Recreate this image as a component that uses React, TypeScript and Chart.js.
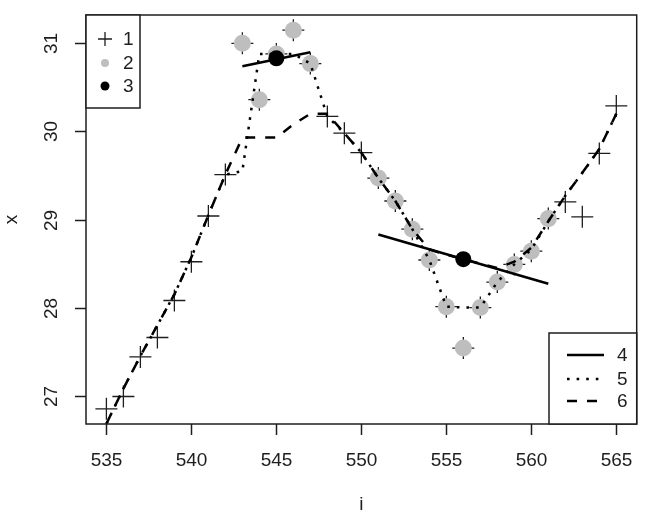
import React, { useEffect, useRef } from "react";
import { Chart, registerables } from "chart.js";

Chart.register(...registerables);

// ---- data ----
const iValues = [535, 536, 537, 538, 539, 540, 541, 542, 543, 544, 545, 546, 547, 548, 549, 550, 551, 552, 553, 554, 555, 556, 557, 558, 559, 560, 561, 562, 563, 564, 565];
const series1X = [26.85, 26.99, 27.44, 27.66, 28.08, 28.52, 29.04, 29.51, 31.0, 30.36, 30.88, 31.15, 30.77, 30.17, 29.98, 29.76, 29.47, 29.21, 28.89, 28.54, 28.01, 27.54, 28.0, 28.29, 28.49, 28.64, 29.01, 29.2, 29.03, 29.75, 30.29];
const series2I = [543, 544, 545, 546, 547, 551, 552, 553, 554, 555, 556, 557, 558, 559, 560, 561];
const series2X = [31.0, 30.36, 30.88, 31.15, 30.77, 29.47, 29.21, 28.89, 28.54, 28.01, 27.54, 28.0, 28.29, 28.49, 28.64, 29.01];
const series3I = [545, 556];
const series3X = [30.83, 28.55];
const line4aI = [543, 547];
const line4aX = [30.74, 30.9];
const line4bI = [551, 561];
const line4bX = [28.83, 28.27];
const line5X = [26.68, 27.08, 27.45, 27.8, 28.15, 28.57, 29.05, 29.51, 29.55, 30.88, 30.88, 30.88, 30.77, 30.17, 29.98, 29.76, 29.47, 29.21, 28.89, 28.54, 28.01, 28.0, 28.0, 28.29, 28.49, 28.66, 28.98, 29.27, 29.53, 29.8, 30.2];
const line6X = [26.68, 27.08, 27.45, 27.8, 28.15, 28.57, 29.05, 29.51, 29.93, 29.93, 29.93, 30.08, 30.2, 30.2, 29.98, 29.76, 29.47, 29.21, 28.89, 28.66, 28.6, 28.55, 28.5, 28.45, 28.52, 28.68, 28.98, 29.27, 29.53, 29.8, 30.2];
const xTicks = [535, 540, 545, 550, 555, 560, 565];
const yTicks = [27, 28, 29, 30, 31];
const legendTopLabels = ["1", "2", "3"];
const legendBottomLabels = ["4", "5", "6"];
const xTitle = "i";
const yTitle = "x";

const FONT = '"Liberation Sans", Arial, sans-serif';
const INK = "#1e1e1e";
const GREY = "#bebebe";
const DOTTED = [2.6, 7];
const DASHED = [10, 10];

const zip = (xs: number[], ys: number[]) => xs.map((x, k) => ({ x, y: ys[k] }));

const rPlot = {
  id: "rPlot",
  afterDraw(chart: any) {
    const ctx = chart.ctx;
    const ca = chart.chartArea;
    const xs = chart.scales.x;
    const ys = chart.scales.y;
    ctx.save();
    ctx.strokeStyle = INK;
    ctx.fillStyle = INK;
    ctx.lineWidth = 1.5;
    ctx.setLineDash([]);
    // box
    ctx.strokeRect(ca.left, ca.top, ca.right - ca.left, ca.bottom - ca.top);
    ctx.font = `19px ${FONT}`;
    // x ticks
    ctx.textAlign = "center";
    ctx.textBaseline = "middle";
    xTicks.forEach((v) => {
      const px = Math.round(xs.getPixelForValue(v)) + 0.5;
      ctx.beginPath();
      ctx.moveTo(px, ca.bottom);
      ctx.lineTo(px, ca.bottom + 11);
      ctx.stroke();
      ctx.fillText(String(v), px, 461);
    });
    // y ticks
    yTicks.forEach((v) => {
      const py = Math.round(ys.getPixelForValue(v)) + 0.5;
      ctx.beginPath();
      ctx.moveTo(ca.left, py);
      ctx.lineTo(ca.left - 11, py);
      ctx.stroke();
      ctx.save();
      ctx.translate(52, py);
      ctx.rotate(-Math.PI / 2);
      ctx.fillText(String(v), 0, 0);
      ctx.restore();
    });
    // titles
    ctx.fillText(xTitle, (ca.left + ca.right) / 2, 505);
    ctx.save();
    ctx.translate(12, (ca.top + ca.bottom) / 2);
    ctx.rotate(-Math.PI / 2);
    ctx.fillText(yTitle, 0, 0);
    ctx.restore();

    // legend top-left
    const l1 = { x: ca.left, y: ca.top, w: 54, h: 93 };
    ctx.fillStyle = "#fff";
    ctx.fillRect(l1.x, l1.y, l1.w, l1.h);
    ctx.strokeRect(l1.x, l1.y, l1.w, l1.h);
    const rows1 = [ca.top + 24, ca.top + 48, ca.top + 71];
    const sx1 = ca.left + 19;
    // +
    ctx.lineWidth = 1.3;
    ctx.strokeStyle = INK;
    ctx.beginPath();
    ctx.moveTo(sx1 - 7, rows1[0]);
    ctx.lineTo(sx1 + 7, rows1[0]);
    ctx.moveTo(sx1, rows1[0] - 7);
    ctx.lineTo(sx1, rows1[0] + 7);
    ctx.stroke();
    ctx.fillStyle = GREY;
    ctx.beginPath();
    ctx.arc(sx1, rows1[1], 4, 0, Math.PI * 2);
    ctx.fill();
    ctx.fillStyle = "#000";
    ctx.beginPath();
    ctx.arc(sx1, rows1[2], 4.5, 0, Math.PI * 2);
    ctx.fill();
    ctx.fillStyle = INK;
    ctx.textAlign = "left";
    legendTopLabels.forEach((t, k) => ctx.fillText(t, ca.left + 37, rows1[k] + 1));

    // legend bottom-right
    ctx.lineWidth = 1.5;
    const l2 = { x: 549, y: 333, w: ca.right - 549, h: ca.bottom - 333 };
    ctx.fillStyle = "#fff";
    ctx.fillRect(l2.x, l2.y, l2.w, l2.h);
    ctx.strokeRect(l2.x, l2.y, l2.w, l2.h);
    const rows2 = [355, 379, 401];
    const dashes = [[], DOTTED, DASHED];
    rows2.forEach((ry, k) => {
      ctx.lineWidth = 2.5;
      ctx.setLineDash(dashes[k]);
      ctx.strokeStyle = "#000";
      ctx.beginPath();
      ctx.moveTo(567, ry);
      ctx.lineTo(604, ry);
      ctx.stroke();
    });
    ctx.setLineDash([]);
    ctx.fillStyle = INK;
    legendBottomLabels.forEach((t, k) => ctx.fillText(t, 617, rows2[k] + 1));
    ctx.restore();
  },
};

export default function App() {
  const ref = useRef<HTMLCanvasElement | null>(null);
  useEffect(() => {
    if (!ref.current) return;
    const chart = new Chart(ref.current, {
      type: "line",
      data: {
        datasets: [
          {
            label: "1",
            data: zip(iValues, series1X),
            showLine: false,
            pointStyle: "cross",
            pointRadius: 11,
            pointBorderWidth: 1.3,
            borderColor: INK,
            backgroundColor: INK,
            order: 6,
          },
          {
            label: "2",
            data: zip(series2I, series2X),
            showLine: false,
            pointStyle: "circle",
            pointRadius: 8.5,
            pointBorderWidth: 0,
            borderColor: GREY,
            backgroundColor: GREY,
            order: 5,
          },
          {
            label: "3",
            data: zip(series3I, series3X),
            showLine: false,
            pointStyle: "circle",
            pointRadius: 8,
            pointBorderWidth: 0,
            borderColor: "#000",
            backgroundColor: "#000",
            order: 4,
          },
          {
            label: "4",
            data: [...zip(line4aI, line4aX), { x: 549, y: null }, ...zip(line4bI, line4bX)],
            borderColor: "#000",
            borderWidth: 2.5,
            pointRadius: 0,
            spanGaps: false,
            order: 3,
          },
          {
            label: "5",
            data: zip(iValues, line5X),
            borderColor: "#000",
            borderWidth: 2.5,
            borderDash: DOTTED,
            pointRadius: 0,
            order: 2,
          },
          {
            label: "6",
            data: zip(iValues, line6X),
            borderColor: "#000",
            borderWidth: 2.5,
            borderDash: DASHED,
            pointRadius: 0,
            order: 1,
          },
        ],
      } as any,
      options: {
        responsive: false,
        animation: false,
        devicePixelRatio: 1,
        layout: { padding: { left: 86, top: 15, right: 11, bottom: 95 } },
        plugins: { legend: { display: false }, tooltip: { enabled: false } },
        scales: {
          x: { type: "linear", min: 533.8, max: 566.2, display: false },
          y: { type: "linear", min: 26.678, max: 31.322, display: false },
        },
      },
      plugins: [rPlot],
    });
    return () => chart.destroy();
  }, []);
  return (
    <div style={{ position: "fixed", left: 0, top: 0, width: 649, height: 519, background: "#fff" }}>
      <canvas ref={ref} width={649} height={519} style={{ display: "block" }} />
    </div>
  );
}
